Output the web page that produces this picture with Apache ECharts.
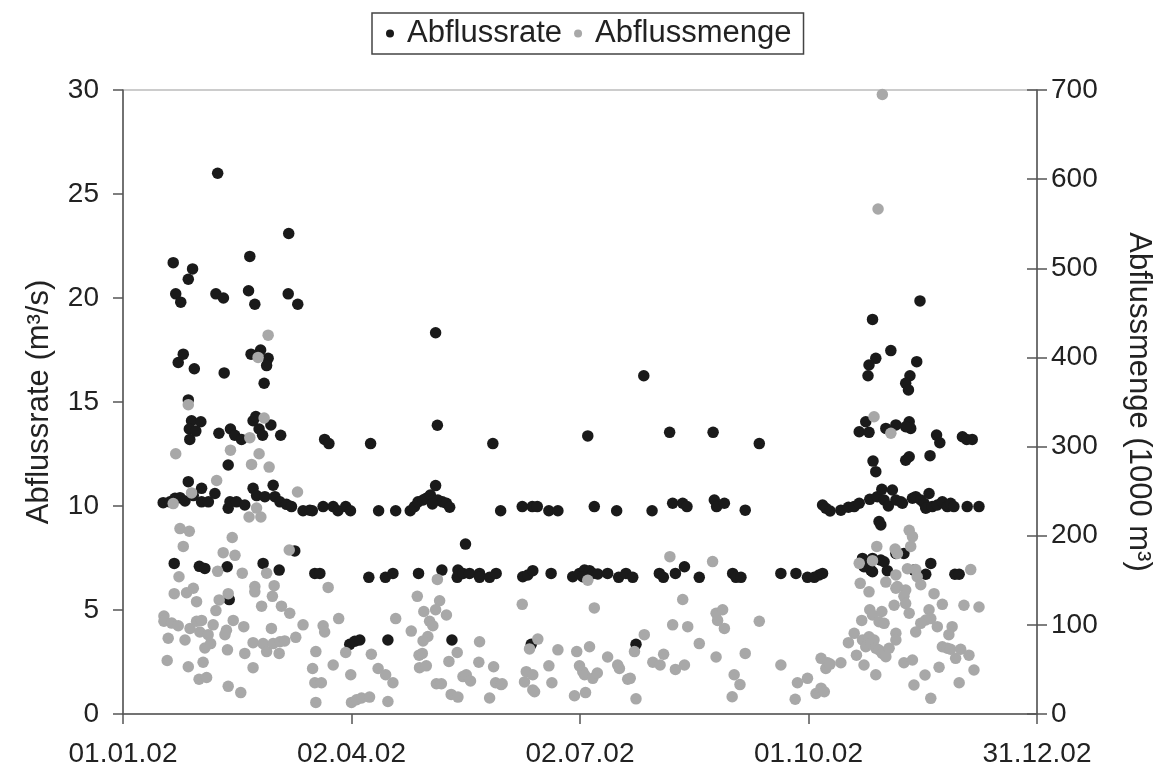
<!DOCTYPE html>
<html>
<head>
<meta charset="utf-8">
<script src="https://cdn.jsdelivr.net/npm/echarts@6/dist/echarts.min.js"></script>
<style>
html,body{margin:0;padding:0;background:#fff;}
#chart{width:1162px;height:771px;}
</style>
</head>
<body>
<div id="chart"></div>
<script>
// x = days since 01.01.02
const xTickLabels = ["01.01.02", "02.04.02", "02.07.02", "01.10.02", "31.12.02"];
const seriesNames = ["Abflussrate", "Abflussmenge"];

// Abflussrate (m³/s), [day, value]
const rateData = [
[37.7,26.0],[66,23.1],[50.5,22.0],[20,21.7],[27.7,21.4],[26,20.9],[21,20.2],[23,19.8],[37,20.2],[40,20.0],[50,20.35],[52.5,19.7],[65.8,20.2],[69.6,19.7],
[24,17.3],[22,16.9],[28.4,16.6],[40.3,16.4],[51,17.3],[54.8,17.5],[57.8,17.1],[57.2,16.75],[56.2,15.9],[26,15.1],
[27.3,14.1],[31,14.05],[26.4,13.7],[29,13.6],[26.6,13.2],[38.2,13.5],[42.8,13.7],[44.5,13.4],[47.2,13.2],[51.8,14.1],[52.9,14.3],[54.2,13.7],[55.6,13.4],[58.9,13.9],[62.8,13.4],
[16,10.16],[18.7,10.2],[20.7,10.37],[22.7,10.4],[24.7,10.24],[26,11.17],[28,10.5],[31.3,10.85],[31.3,10.2],[34,10.2],[36.6,10.6],[41.9,9.89],[42.6,10.2],[45.2,10.2],[48.5,10.05],[51.8,10.85],[53.2,10.5],[56.5,10.45],[59.8,11.0],[60.5,10.45],[62.5,10.2],[65.1,10.08],[67.1,9.97],[71.7,9.77],[74.4,9.8],[41.9,11.97],
[20.4,7.24],[30.4,7.1],[32.6,7.0],[41.5,7.08],[55.8,7.24],[62.2,6.92],[68.4,7.84],[42.3,5.5],
[124.5,18.33],[125.2,13.88],[80.3,13.2],[82,13.0],[98.6,13.0],[147.3,13.0],[124.5,10.98],
[75.4,9.77],[79.7,9.97],[83.7,9.97],[85.6,9.77],[88.7,9.97],[90.6,9.77],[101.8,9.77],[108.6,9.77],[114.4,9.77],
[116.1,9.97],[117.5,10.2],[119.5,10.29],[120.8,10.37],[122.4,10.53],[123.7,10.29],[125.4,10.29],[127.2,10.2],[128.8,10.13],[130.1,9.94],[123.2,10.1],
[150.4,9.77],[136.4,8.17],
[76.4,6.76],[78.4,6.76],[97.9,6.57],[104.5,6.57],[107.5,6.76],[117.7,6.76],[127,6.92],[133.4,6.92],[133.1,6.57],[135.4,6.76],[138,6.76],[142,6.76],[142,6.57],[146,6.57],[148.6,6.76],
[90.3,3.35],[92.3,3.5],[94.3,3.56],[105.5,3.56],[131,3.56],
[207.4,16.26],[185.1,13.37],[217.7,13.54],[235,13.54],
[159,9.97],[163,9.97],[165,9.97],[169.6,9.77],[173.2,9.77],[187.7,9.97],[196.6,9.77],[210.7,9.77],[218.9,10.13],[222.9,10.13],[224.6,9.97],[235.5,10.29],[236.4,9.97],
[159.2,6.6],[161.2,6.68],[163.2,6.89],[170.5,6.76],[179.1,6.6],[181.8,6.76],[183.8,6.92],[185.8,6.89],[187.1,6.76],[189.1,6.73],[183.1,6.6],[193,6.76],[197.4,6.57],[200.3,6.76],[203,6.57],[213.6,6.76],[215.2,6.57],[220,6.76],[223.6,7.08],[229.5,6.57],[162.6,3.35],[204.3,3.35],
[239.5,10.13],[253.4,13.0],[247.8,9.8],[278.6,10.05],[279.9,9.89],[281.6,9.76],[285.9,9.8],[288.9,9.94],[291.2,9.97],[293.2,10.13],[297.4,10.32],[300.4,10.45],[302.2,10.8],[303.1,10.29],[304.8,10.0],[306.4,10.77],[307.8,10.29],[301.1,9.25],[301.8,9.09],[298.7,12.16],[299.8,11.65],[293.2,13.57],[295.8,14.05],[297.1,13.54],[303.8,13.73],[307.8,13.9],
[242.8,6.76],[244.1,6.57],[246.1,6.57],[262,6.76],[268,6.76],[272.6,6.57],[275.3,6.57],[277.2,6.68],[278.6,6.76],
[294.5,7.48],[295.1,7.08],[297.8,6.92],[298.5,6.84],[301.8,7.4],[303.1,7.32],[304.4,6.89],[307.8,7.72],[298.5,7.48],
[317.4,19.86],[298.5,18.97],[305.8,17.47],[299.8,17.1],[297.1,16.78],[296.7,16.26],[316.1,16.94],[313.4,16.26],[311.7,15.9],[312.8,15.58],[313.1,14.05],[313.7,13.73],[311.7,13.81],[324,13.41],[325.3,13.04],[334.3,13.33],[336,13.2],[338.2,13.2],
[311.7,12.2],[313.1,12.37],[321.4,12.42],
[309.8,10.2],[310.4,10.13],[314.4,10.37],[315.7,10.45],[317.7,10.29],[319,10.13],[319.7,9.89],[321,10.6],[322.3,9.97],[324.3,10.05],[326.3,10.2],[328.3,9.97],[329.6,10.13],[330.9,9.97],[336.2,9.97],[340.9,9.97],
[311,7.72],[315,6.92],[319.7,6.72],[321.7,7.24],[331.3,6.72],[333,6.72]
];

// Abflussmenge (1000 m³), [day, value]
const volumeData = [
[57.8,425],[53.8,400],[26,347],[56.2,332],[50.5,310],[21,292],[42.8,296],[54.2,292],
[51.2,280],[58.2,277],[37.3,262],[27.3,248],[20,236],[69.5,249],[53.2,231],[50.2,221],[54.9,221],[22.7,208],[26.4,205],[24,188],[43.5,198],[39.9,181],[44.6,178],[66.2,184],
[37.7,160],[47.5,158],[57.2,158],[22.3,154],[20.4,135],[25.3,136],[28,141],[29.3,126],[38.3,128],[41.9,135],[52.5,143],[52.5,137],[60.2,144],[59.5,132],[55.2,121],[63.1,121],[66.4,113],[37,116],
[16.3,110],[16.3,104],[19.4,102],[22,99],[26.7,96],[29.3,104],[31.3,105],[30.6,92],[35.9,100],[41.2,94],[40.6,89],[43.9,105],[48.1,98],[59.1,96],[71.7,100],
[18,85],[24.7,83],[32.6,74],[34.9,79],[33.9,89],[41.6,72],[48.5,68],[51.8,80],[55.8,79],[57.2,70],[59.8,79],[62.5,81],[64.4,82],[62.2,68],[68.8,86],
[17.6,60],[26,53],[31.9,58],[30.3,39],[33.3,41],[51.8,52],[41.9,31],[46.9,24],
[81.7,142],[85.9,107],[79.7,99],[80.3,92],[76.8,70],[75.5,51],[76.4,35],[79,35],[76.8,13],[83.7,55],[88.7,69],[90.7,44],[91,13],[93,16],[95,18],[98.2,19],[98.9,67],[101.6,51],[104.6,44],[107.5,35],[105.5,14],
[108.6,107],[114.8,93],[117.2,132],[119.8,115],[125.2,151],[126.1,127],[124.5,117],[128.8,111],[122.1,104],[123.4,99],[121.4,87],[119.5,82],[117.9,66],[119.2,68],[118.1,52],[120.8,54],[124.8,34],[126.8,34],[130.7,22],[133.4,19],[133.1,69],[129.8,59],[135.4,42],[136.7,44],[138.4,37],[142,81],[141.7,58],[147.6,53],[148.4,35],[150.6,33],[146,18],
[159,123],[187.7,119],[185.1,150],[217.8,176.5],[234.8,171],[222.9,128.5],[218.9,100],[224.9,98],[236.2,113],[236.8,105],[207.6,89],[229.5,79],[236.2,64],[165.2,84],[161.9,73],[173.2,72],[180.7,70],[185.8,75.5],[193,64],[203.7,70],[215.3,67],[211,58],[213.9,55],[223.6,55],[220,50],[169.6,54],[181.8,54],[183.1,47.5],[183.8,44],[197,55],[197.7,51],[187.1,40],[188.9,46],[201,39],[202,40],[160.6,47.5],[163.2,44],[159.9,36],[163.2,27],[163.9,25],[151,34],[170.8,35],[179.8,20.5],[184.2,24],[204.3,17],
[299.1,333.5],[305.8,315],[300.2,188],[307.5,185],
[238.8,117],[239.5,96],[253.4,104],[247.8,68],[243.4,44],[245.7,33],[242.6,19.4],[262,55],[268.6,35],[272.6,40],[267.7,16.5],[276,23],[278,29],[279.3,25],[278,62.4],[280.6,57.5],[279.9,51],[281.6,56],[285.9,57.5],[288.9,80],[291.2,90.5],[292.1,66],[294.2,105],[295.1,55],[299.8,44],[293.6,146.6],[297.1,137],[293.2,169],[298.5,172],[297.4,117],[298.5,111],[302.2,115],[301.1,103.5],[303.1,101.7],[303.8,148],[307.8,141],[307.1,122],
[294.5,83],[295.8,75.5],[297.1,86.7],[297.8,79],[299.1,83],[299.8,73.7],[301.1,71.8],[302.4,68],[303.8,64.3],[305.1,73.7],[307.8,90.5],[307.8,83],
[302.4,695],[300.7,566.5],
[313.1,206],[314.4,199],[313.7,188],[308.4,180],[337.6,162],[312.4,163],[315.7,162],[316.3,154],[317.7,145],[307.8,156],[308.4,143],[311.7,139],[311,132],[323,135],[326.3,123],[334.9,122],[340.9,120],[311.7,124],[313.1,113],[321,117],[321.7,107],[319.7,105.5],[317.7,101.7],[315.7,92],[324.3,98],[330.2,98],[328.9,89],[326.3,75.5],[328.3,73.7],[329.6,72.6],[333.6,72.6],[336.9,66],[331.6,62.4],[311,57.5],[314.4,60.6],[325,52.4],[338.9,49.4],[319.4,43.8],[315,32.5],[333,35],[321.7,17.6]
];

const FONT = '"Liberation Sans", Arial, sans-serif';
const TXT = '#222';
const AX = '#555';

const chart = echarts.init(document.getElementById('chart'), null, {renderer: 'canvas'});
chart.setOption({
  animation: false,
  backgroundColor: '#fff',
  textStyle: {fontFamily: FONT, color: TXT},
  grid: {left: 123, right: 124, top: 90, bottom: 57, show: true, borderColor: '#999', borderWidth: 1},
  legend: {
    data: seriesNames,
    left: 372, top: 13,
    padding: [5, 12, 5, 14],
    borderColor: '#444', borderWidth: 1.5,
    itemWidth: 8, itemHeight: 8, itemGap: 12,
    icon: 'circle',
    textStyle: {fontSize: 31, color: TXT, fontFamily: FONT, padding: [0, 0, 0, 8]}
  },
  xAxis: {
    type: 'value', min: 0, max: 364, interval: 91,
    axisLine: {show: true, lineStyle: {color: AX, width: 1.5}},
    axisTick: {show: true, length: 10, lineStyle: {color: AX, width: 1.5}},
    splitLine: {show: false},
    axisLabel: {
      fontSize: 28, color: TXT, fontFamily: FONT, margin: 26,
      formatter: function (v) { return xTickLabels[Math.round(v / 91)] || ''; }
    }
  },
  yAxis: [
    {
      type: 'value', position: 'left', min: 0, max: 30, interval: 5,
      name: 'Abflussrate (m³/s)', nameLocation: 'middle', nameRotate: 90, nameGap: 68,
      nameTextStyle: {fontSize: 31, color: TXT, fontFamily: FONT},
      axisLine: {show: true, lineStyle: {color: AX, width: 1.5}},
      axisTick: {show: true, length: 10, lineStyle: {color: AX, width: 1.5}},
      splitLine: {show: false},
      axisLabel: {fontSize: 28, color: TXT, fontFamily: FONT, margin: 24}
    },
    {
      type: 'value', position: 'right', min: 0, max: 700, interval: 100,
      name: 'Abflussmenge (1000 m³)', nameLocation: 'middle', nameRotate: -90, nameGap: 86,
      nameTextStyle: {fontSize: 31, color: TXT, fontFamily: FONT},
      axisLine: {show: true, lineStyle: {color: AX, width: 1.5}},
      axisTick: {show: true, length: 10, lineStyle: {color: AX, width: 1.5}},
      splitLine: {show: false},
      axisLabel: {fontSize: 28, color: TXT, fontFamily: FONT, margin: 14}
    },
    {
      type: 'value', position: 'right', min: 0, max: 700, interval: 100,
      axisLine: {show: false},
      axisTick: {show: true, inside: true, length: 10, lineStyle: {color: AX, width: 1.5}},
      splitLine: {show: false},
      axisLabel: {show: false}
    }
  ],
  series: [
    {
      name: seriesNames[0], type: 'scatter', yAxisIndex: 0,
      symbol: 'circle', symbolSize: 11.5,
      itemStyle: {color: '#1a1a1a', opacity: 1},
      data: rateData, z: 2
    },
    {
      name: seriesNames[1], type: 'scatter', yAxisIndex: 1,
      symbol: 'circle', symbolSize: 11.5,
      itemStyle: {color: '#a8a8a8', opacity: 1},
      data: volumeData, z: 3
    }
  ]
});
</script>
</body>
</html>
